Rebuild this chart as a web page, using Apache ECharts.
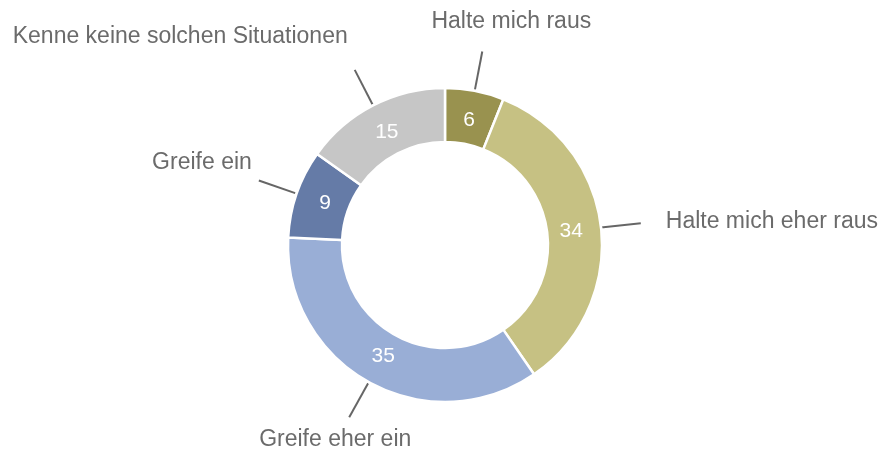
<!DOCTYPE html>
<html><head><meta charset="utf-8">
<script src="https://cdn.jsdelivr.net/npm/echarts@6/dist/echarts.min.js"></script>
<style>html,body{margin:0;padding:0;background:#fff}#c{width:881px;height:453px}</style>
</head><body><div id="c"></div>
<script>
const categories = ['Halte mich raus', 'Halte mich eher raus', 'Greife eher ein', 'Greife ein', 'Kenne keine solchen Situationen'];
const values = [6, 34, 35, 9, 15];
const colors = ['#99924f', '#c6c183', '#99aed6', '#657ba7', '#c6c6c6'];
// label placement rules relative to label-line end: [dx, dy, align, verticalAlign]
const labelPlace = [
  [29, -30, 'center', 'middle'],
  [25, -2, 'left', 'middle'],
  [-14, 23, 'center', 'middle'],
  [-7, -18, 'right', 'middle'],
  [-7, -33, 'right', 'middle']
];
const font = 'Helvetica, "Liberation Sans", Arial, sans-serif';
const data = categories.map((n, i) => ({ name: n, value: values[i], itemStyle: { color: colors[i] } }));
const chart = echarts.init(document.getElementById('c'));
const CX = 445, CY = 245;
const center = [CX, CY];
const radius = [103, 157];
const innerLabelR = 127;
chart.setOption({
  animation: false,
  series: [
    {
      type: 'pie', center: center, radius: radius, startAngle: 90, clockwise: true,
      avoidLabelOverlap: false,
      itemStyle: { borderColor: '#fff', borderWidth: 2.5 },
      label: { show: true, position: 'outside', color: '#6b6b6b', fontSize: 23, fontFamily: font, formatter: '{b}' },
      labelLine: { show: true, length: 40, length2: 0, smooth: false, lineStyle: { color: '#666666', width: 2 } },
      labelLayout: function (p) {
        const pts = p.labelLinePoints;
        const end = pts[pts.length - 1];
        const r = labelPlace[p.dataIndex];
        return { x: end[0] + r[0], y: end[1] + r[1], align: r[2], verticalAlign: r[3], labelLinePoints: pts };
      },
      emphasis: { disabled: true },
      data: data
    },
    {
      type: 'pie', center: center, radius: radius, startAngle: 90, clockwise: true,
      itemStyle: { borderColor: '#fff', borderWidth: 2.5 },
      label: { show: true, position: 'inside', color: '#fff', fontSize: 21, fontFamily: font, formatter: '{c}' },
      labelLine: { show: false },
      labelLayout: function (p) {
        const rc = p.labelRect;
        const mx = rc.x + rc.width / 2 - CX, my = rc.y + rc.height / 2 - CY;
        const d = Math.sqrt(mx * mx + my * my) || 1;
        return { x: CX + mx / d * innerLabelR, y: CY + my / d * innerLabelR, align: 'center', verticalAlign: 'middle' };
      },
      emphasis: { disabled: true },
      data: data
    }
  ]
});
</script></body></html>
